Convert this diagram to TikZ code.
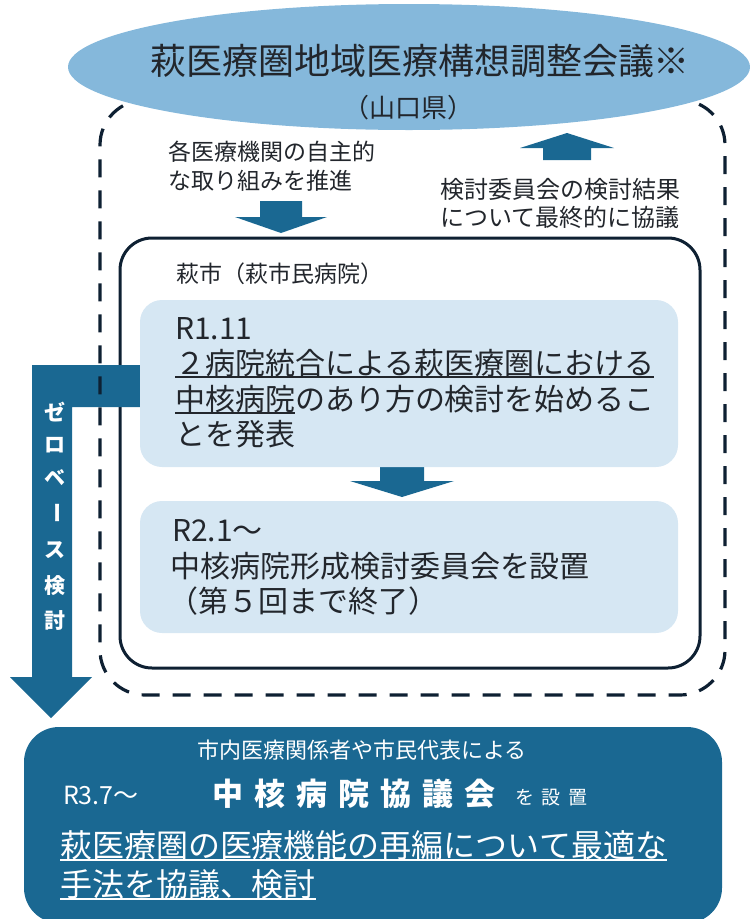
\documentclass[tikz,border=0pt]{standalone}
\usepackage{fontspec}
\setmainfont{Noto Sans CJK JP}
\usetikzlibrary{shapes.geometric}
\definecolor{ellfill}{RGB}{133,184,219}
\definecolor{teal}{RGB}{26,104,146}
\definecolor{lightbox}{RGB}{214,231,243}
\definecolor{navy}{RGB}{14,32,50}
\definecolor{txt}{RGB}{34,38,44}
\newcommand\myul[1]{\setbox0\hbox{#1}\rlap{\rule[-4pt]{\wd0}{1.6pt}}\box0}
\newcommand\fsz[1]{\fontsize{#1}{#1}\selectfont}
\tikzset{
  tx/.style={inner sep=0pt, outer sep=0pt, text=txt, anchor=base west},
  wt/.style={inner sep=0pt, outer sep=0pt, text=white, anchor=base west},
  vt/.style={inner sep=0pt, text=white, font=\fsz{21}\bfseries},
  blk/.style={fill=teal, draw=none},
}
\begin{document}
\begin{tikzpicture}[x=1pt,y=-1pt]
\useasboundingbox (0,0) rectangle (750,919);
% inner solid rounded box
\node[draw=navy, line width=3pt, rounded corners=32pt, minimum width=580pt, minimum height=430pt, inner sep=0] (inner) at (410,453) {};
% L-shaped arrow
\fill[blk] (32,365) -- (140,365) -- (140,407) -- (72,407) -- (72,677) -- (92,677) -- (51,718) -- (10,677) -- (32,677) -- cycle;
% dashed box
\node[draw=navy, line width=3.2pt, dash pattern=on 18pt off 13pt, rounded corners=45pt, minimum width=625pt, minimum height=595pt, inner sep=0] (dash) at (412.5,397.5) {};
% ellipse
\node[ellipse, fill=ellfill, minimum width=682pt, minimum height=126pt, inner sep=0] (ell) at (409,67) {};
\node[tx, anchor=base, font=\fsz{36}] (title) at (420,74) {萩医療圏地域医療構想調整会議※};
\node[tx, anchor=base, font=\fsz{26}] (pref) at (408,117) {（山口県）};
% side texts
\node[tx, font=\fsz{23}] (l1) at (168,160) {各医療機関の自主的};
\node[tx, font=\fsz{23}] (l2) at (168,189) {な取り組みを推進};
\node[tx, font=\fsz{24}] (r1) at (440,198) {検討委員会の検討結果};
\node[tx, font=\fsz{24}] (r2) at (440,226) {について最終的に協議};
% arrows
\fill[blk] (260,201) -- (302,201) -- (302,217) -- (327,217) -- (281,233) -- (235,217) -- (260,217) -- cycle;
\fill[blk] (543,160) -- (591,160) -- (591,148) -- (614,148) -- (567,133) -- (520,148) -- (543,148) -- cycle;
\fill[blk] (380,467) -- (424,467) -- (424,481) -- (454,481) -- (402,497) -- (350,481) -- (380,481) -- cycle;
% city label
\node[tx, font=\fsz{23}] (city) at (176,282) {萩市（萩市民病院）};
% box 1
\node[fill=lightbox, rounded corners=22pt, minimum width=538pt, minimum height=167pt, inner sep=0] (b1) at (409,383.5) {};
\node[tx, font=\fsz{30}] (b1a) at (175,339) {R1.11};
\node[tx, font=\fsz{30}] (b1b) at (175,374) {\myul{２病院統合による萩医療圏における}};
\node[tx, font=\fsz{30}] (b1c) at (175,410) {\myul{中核病院}のあり方の検討を始めるこ};
\node[tx, font=\fsz{30}] (b1d) at (175,445) {とを発表};
% box 2
\node[fill=lightbox, rounded corners=22pt, minimum width=538pt, minimum height=132pt, inner sep=0] (b2) at (409,567) {};
\node[tx, font=\fsz{30}] (b2a) at (172,541) {R2.1～};
\node[tx, font=\fsz{30}] (b2b) at (170,577) {中核病院形成検討委員会を設置};
\node[tx, font=\fsz{30}] (b2c) at (168,612) {（第５回まで終了）};
% vertical text
\node[vt] (v1) at (55,412) {ゼ};
\node[vt] (v2) at (55,445) {ロ};
\node[vt] (v3) at (55,478) {ベ};
\node[vt, rotate=-90] (v4) at (55,513) {ー};
\node[vt] (v5) at (55,550) {ス};
\node[vt] (v6) at (55,586) {検};
\node[vt] (v7) at (55,621) {討};
% bottom box
\node[fill=teal, rounded corners=35pt, minimum width=698pt, minimum height=196pt, inner sep=0] (bot) at (373,825) {};
\node[wt, anchor=base, font=\fsz{22}] (c1) at (362,758) {市内医療関係者や市民代表による};
\node[wt, font=\fsz{25}] (c2) at (63,804) {R3.7～};
\node[wt, font=\fsz{31}\bfseries\addfontfeature{LetterSpace=36}] (c3) at (212,805) {中核病院協議会};
\node[wt, font=\fsz{19}\addfontfeature{LetterSpace=40}] (c4) at (515,804) {を設置};
\node[wt, font=\fsz{32}] (c5) at (60,857) {\myul{萩医療圏の医療機能の再編について最適な}};
\node[wt, font=\fsz{32}] (c6) at (60,896) {\myul{手法を協議、検討}};
\end{tikzpicture}
\end{document}
